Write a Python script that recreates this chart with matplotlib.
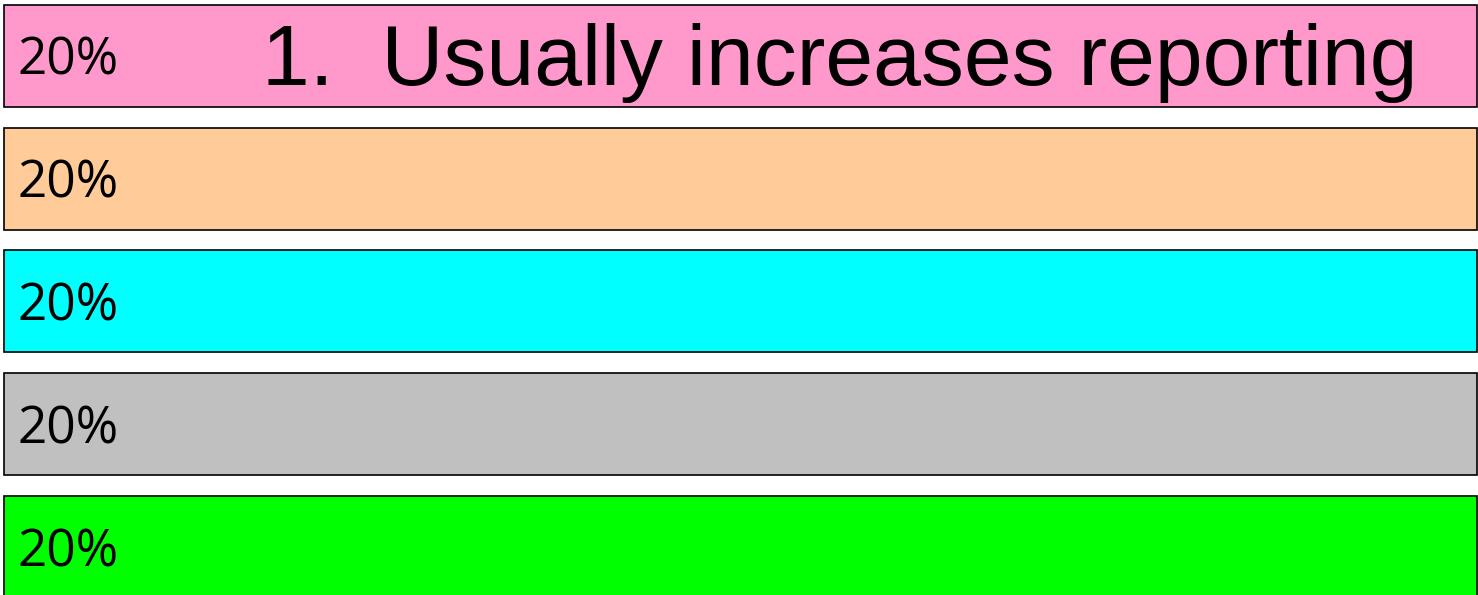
import matplotlib
matplotlib.use('Agg')
import matplotlib.pyplot as plt

# answer choices / response shares
labels = ['20%', '20%', '20%', '20%', '20%']
values = [20, 20, 20, 20, 20]
colors = ['#FF99CC', '#FFCC99', '#00FFFF', '#C0C0C0', '#00FF00']
question = '1.  Usually increases reporting'

fig = plt.figure(figsize=(14.78, 5.95), dpi=100)
ax = fig.add_axes([0, 0, 1, 1])

pos = list(range(len(values)))
ax.barh(pos, values, height=102 / 122.75, left=0, color=colors,
        edgecolor='black', linewidth=1.2)

ax.set_xlim(-4 / 73.65, 20 + 1.5 / 73.65)
ax.set_ylim(4.391, -0.456)
ax.axis('off')

# percent labels
for i, lab in enumerate(labels):
    ax.text(14 / 73.65, i + 19 / 122.75, lab, fontsize=37, family='Open Sans',
            va='baseline', ha='left')

ax.text(258 / 73.65, 0 + 29 / 122.75, question, fontsize=61.8,
        family='Liberation Sans', va='baseline', ha='left')

fig.savefig('out.png', dpi=100)
